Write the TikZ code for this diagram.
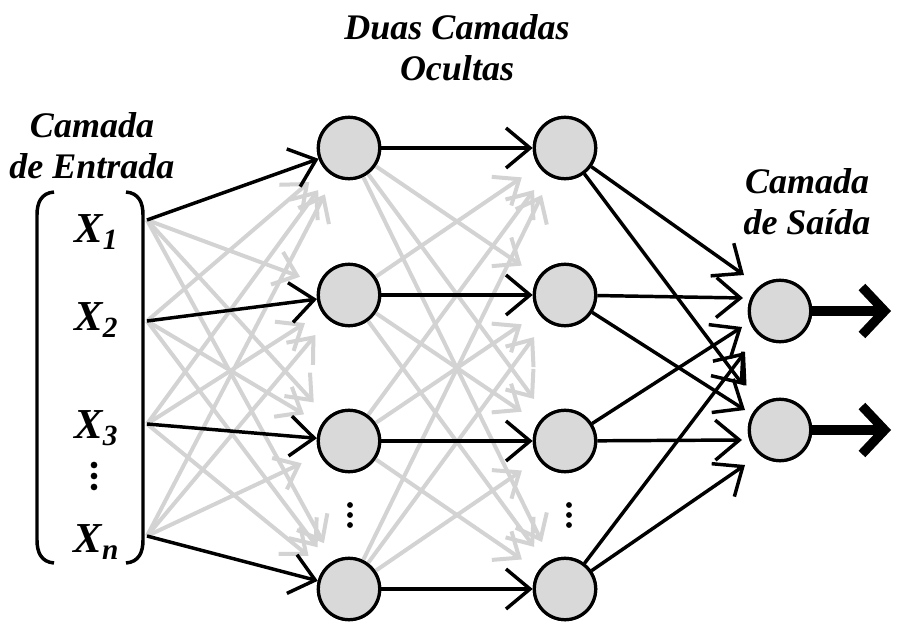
\documentclass[tikz,border=0pt]{standalone}
\usepackage{fontspec}
\setmainfont{Liberation Serif}
\usetikzlibrary{arrows.meta,calc}
\definecolor{nodegray}{HTML}{D9D9D9}
\definecolor{linkgray}{HTML}{D3D3D3}
\newcommand{\xin}[1]{X\raisebox{-5pt}{\fontsize{22}{22}\selectfont #1}}
\begin{document}
\begin{tikzpicture}[x=0.75pt,y=-0.75pt,
  neuron/.style={circle,draw=black,fill=nodegray,line width=2.4pt,minimum size=46pt,inner sep=0pt},
  blackarrow/.style={draw=black,line width=2.6pt,-{Straight Barb[length=18pt,width=30pt,line width=2.6pt]}},
  grayarrow/.style={draw=linkgray,line width=3pt,shorten >=15pt,-{Straight Barb[length=16pt,width=26pt,line width=3pt]}},
  outarrow/.style={draw=black,line width=7pt,-{Straight Barb[length=17pt,width=36pt,line width=7pt]}},
  layerlabel/.style={align=center,font=\fontsize{27}{31}\selectfont\bfseries\itshape,inner sep=0pt},
  inlabel/.style={font=\fontsize{32}{32}\selectfont\bfseries\itshape,inner sep=0pt},
  dot/.style={circle,fill=black,inner sep=0pt,minimum size=#1},
  dot/.default=5pt,
  bracket/.style={draw=black,line width=2.6pt}]
\useasboundingbox (0,0) rectangle (898,623);

% layer titles
\node[layerlabel] (tin)  at (92,146)  {Camada\\de Entrada};
\node[layerlabel] (thid) at (457,48)  {Duas Camadas\\Ocultas};
\node[layerlabel] (tout) at (807,202) {Camada\\de Saída};

% input vector
\draw[bracket] (54,192) .. controls (41,193) and (37,203) .. (37,215) -- (37,540)
  .. controls (37,552) and (41,562) .. (54,563);
\draw[bracket] (126,192) .. controls (139,193) and (143,203) .. (143,215) -- (143,540)
  .. controls (143,552) and (139,562) .. (126,563);
\node[inlabel] (x1) at (96,232) {\xin{1}};
\node[inlabel] (x2) at (96,320) {\xin{2}};
\node[inlabel] (x3) at (96,428) {\xin{3}};
\node[inlabel] (xn) at (96,542) {\xin{n}};

% vertical ellipses
\foreach \y in {465,476,487} \node[dot] (xd\y) at (94,\y) {};
\foreach \y in {505,515,525}{
  \node[dot=4.4pt] (ad\y) at (350,\y) {};
  \node[dot=4.4pt] (bd\y) at (569,\y) {};
}

\coordinate (in1) at (147,220);
\coordinate (in2) at (147,321);
\coordinate (in3) at (147,424);
\coordinate (in4) at (147,536);

% hidden and output neurons
\foreach \k/\y in {1/148,2/295,3/441,4/589}{
  \node[neuron] (a\k) at (349,\y) {};
  \node[neuron] (b\k) at (565,\y) {};
}
\node[neuron] (o1) at (780,311) {};
\node[neuron] (o2) at (780,430) {};

% light cross connections
\foreach \i in {1,...,4}{
  \foreach \j in {1,...,4}{
    \ifnum\i=\j\else
      \draw[grayarrow] (in\i) -- (a\j);
      \draw[grayarrow] (a\i) -- (b\j);
    \fi
  }
}

% direct connections
\foreach \i in {1,...,4}{
  \draw[blackarrow] (in\i) -- (a\i);
  \draw[blackarrow] (a\i) -- (b\i);
}

% hidden to output
\coordinate (t11) at ($(o1.center)+(-36,-36)$);
\coordinate (t21) at ($(o1.center)+(-37,-13)$);
\coordinate (t31) at ($(o1.center)+(-38,16)$);
\coordinate (t41) at ($(o1.center)+(-35,41)$);
\coordinate (t12) at ($(o2.center)+(-37,-45)$);
\coordinate (t22) at ($(o2.center)+(-35,-20)$);
\coordinate (t32) at ($(o2.center)+(-38,10)$);
\coordinate (t42) at ($(o2.center)+(-35,35)$);
\foreach \i in {1,...,4}{
  \draw[blackarrow] (b\i) -- (t\i1);
  \draw[blackarrow] (b\i) -- (t\i2);
}

% outputs
\coordinate (y1) at (891,311);
\coordinate (y2) at (891,430);
\draw[outarrow] (o1) -- (y1);
\draw[outarrow] (o2) -- (y2);

% neurons redrawn on top of the crossing lines
\foreach \k/\y in {1/148,2/295,3/441,4/589}{
  \node[neuron] at (349,\y) {};
  \node[neuron] at (565,\y) {};
}
\node[neuron] at (780,311) {};
\node[neuron] at (780,430) {};
\end{tikzpicture}
\end{document}
